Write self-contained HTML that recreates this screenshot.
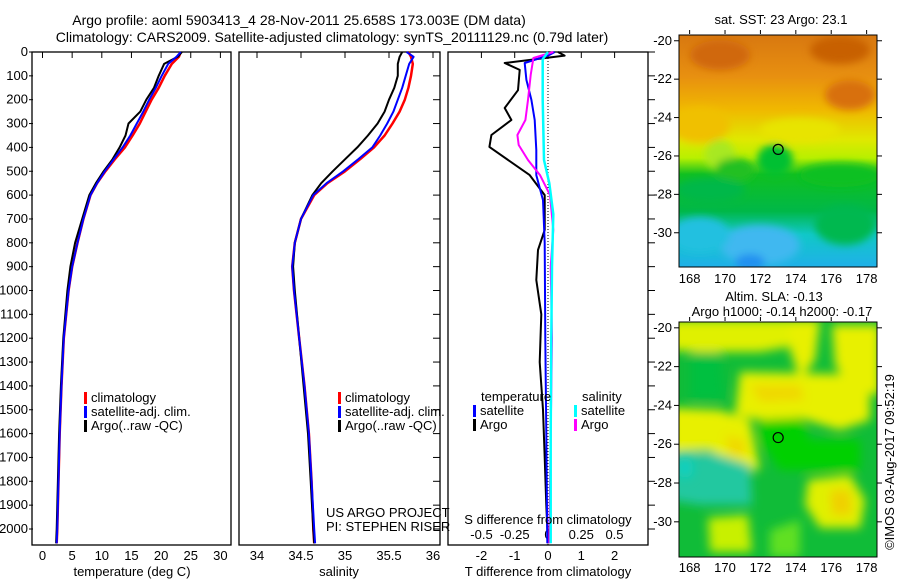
<!DOCTYPE html>
<html><head><meta charset="utf-8"><style>
body{margin:0;background:#fff;}
svg{display:block;font-family:"Liberation Sans",sans-serif;}
text{font-size:13px;fill:#000;}
</style></head><body>
<svg id="c" width="900" height="580" viewBox="0 0 900 580" xmlns="http://www.w3.org/2000/svg">
<defs>
<filter id="bl2" filterUnits="userSpaceOnUse" x="640" y="20" width="260" height="560"><feGaussianBlur stdDeviation="4"/></filter>
<filter id="bl3" filterUnits="userSpaceOnUse" x="640" y="300" width="260" height="280"><feGaussianBlur stdDeviation="5"/></filter>
<clipPath id="m1"><rect x="679" y="35" width="198" height="232"/></clipPath>
<clipPath id="m2"><rect x="679" y="322" width="198" height="235"/></clipPath>
<linearGradient id="sst" x1="0" y1="0" x2="0" y2="1">
<stop offset="0" stop-color="#d87810"/><stop offset="0.18" stop-color="#e89010"/><stop offset="0.32" stop-color="#f0b800"/><stop offset="0.45" stop-color="#e0e800"/><stop offset="0.53" stop-color="#b8f000"/><stop offset="0.6" stop-color="#10c020"/><stop offset="0.76" stop-color="#00b848"/><stop offset="0.86" stop-color="#10c8c8"/><stop offset="1" stop-color="#20b0e8"/>
</linearGradient>
</defs>
<text x="299" y="25" text-anchor="middle" style="font-size:14px">Argo profile: aoml 5903413_4 28-Nov-2011 25.658S 173.003E (DM data)</text>
<text x="332" y="42" text-anchor="middle" style="font-size:14px">Climatology: CARS2009. Satellite-adjusted climatology: synTS_20111129.nc (0.79d later)</text>
<g id="plots"></g>
<g id="maps"></g>
<text x="781" y="24" text-anchor="middle">sat. SST: 23 Argo: 23.1</text>
<text x="774" y="301" text-anchor="middle">Altim. SLA: -0.13</text>
<text x="782" y="316" text-anchor="middle">Argo h1000: -0.14 h2000: -0.17</text>
<text transform="translate(894,462) rotate(-90)" text-anchor="middle">©IMOS 03-Aug-2017 09:52:19</text>
<text x="326" y="517">US ARGO PROJECT</text>
<text x="326" y="531">PI: STEPHEN RISER</text>
</svg>
<script>
// ---- data ----
const depthTicks=[0,100,200,300,400,500,600,700,800,900,1000,1100,1200,1300,1400,1500,1600,1700,1800,1900,2000];
const tDepth=[0,20,50,100,150,200,250,300,350,400,450,500,550,600,700,800,900,1000,1200,1400,1600,1800,2000,2060];
const tClim=[23.3,23.0,21.8,20.6,19.6,18.4,17.4,16.4,15.2,13.9,12.2,10.6,9.2,8.1,6.9,5.9,5.0,4.4,3.6,3.2,2.9,2.7,2.5,2.4];
const tSat=[23.3,22.6,21.2,20.1,19.1,18.0,17.0,15.9,14.8,13.5,12.0,10.5,9.2,8.1,6.9,5.9,5.0,4.4,3.6,3.2,2.9,2.7,2.5,2.4];
const tArgo=[23.5,22.8,20.5,19.6,18.8,17.5,16.5,14.5,14.0,13.0,11.8,10.3,9.0,7.9,6.7,5.5,4.7,4.2,3.5,3.1,2.8,2.6,2.4,2.3];
const sDepth=[0,20,50,100,150,200,250,300,350,400,450,500,550,600,700,800,900,1000,1200,1400,1600,1800,2000,2060];
const sClim=[35.72,35.75,35.77,35.75,35.72,35.68,35.62,35.54,35.45,35.33,35.17,35.0,34.8,34.65,34.5,34.43,34.40,34.42,34.48,34.54,34.59,34.62,34.64,34.65];
const sSat=[35.70,35.78,35.73,35.69,35.65,35.60,35.55,35.48,35.40,35.31,35.15,34.98,34.79,34.64,34.5,34.43,34.40,34.42,34.48,34.54,34.59,34.62,34.65,34.66];
const sArgo=[35.65,35.62,35.60,35.60,35.56,35.50,35.45,35.37,35.26,35.14,35.0,34.86,34.73,34.63,34.5,34.43,34.41,34.43,34.48,34.53,34.58,34.61,34.64,34.65];
const dtArgoDepth=[0,15,46,75,160,235,285,348,398,516,600,746,830,956,1100,1300,1500,1700,1900,2060];
const dtArgo=[0.3,0.5,-1.3,-0.85,-0.9,-1.3,-1.1,-1.7,-1.76,-0.55,-0.1,-0.1,-0.3,-0.35,-0.2,-0.25,-0.15,-0.1,-0.05,0];
const dtSatDepth=[0,15,46,117,201,285,411,516,621,800,1200,1600,2060];
const dtSat=[0.2,0.0,-0.7,-0.65,-0.5,-0.4,-0.35,-0.35,-0.15,-0.1,-0.08,-0.05,-0.02];
const dsArgoDepth=[0,25,96,201,285,348,390,453,516,600,746,900,1200,1600,2060];
const dsArgo=[0.04,-0.11,-0.13,-0.15,-0.17,-0.23,-0.22,-0.15,-0.06,0.015,0.04,0.02,0.03,0.02,0.01];
const dsSatDepth=[0,30,200,453,550,680,900,1200,1600,2060];
const dsSat=[0.0,-0.04,-0.04,-0.03,0.01,0.04,0.03,0.025,0.02,0.02];
const tTicks=[0,5,10,15,20,25,30];
const sTicks=[34,34.5,35,35.5,36];
const dtTicks=[-2,-1,0,1,2];
const dsTicks=[-0.5,-0.25,0,0.25,0.5];
const dsTickLabels=["-0.5","-0.25","0","0.25","0.5"];
const latTicks=[-20,-22,-24,-26,-28,-30];
const lonTicks=[168,170,172,174,176,178];
const argoLon=173.003, argoLat=-25.658;

// ---- scales ----
const NS='http://www.w3.org/2000/svg';
const Y=d=>52+d*0.2385;
const xT=v=>42.5+v*5.93;
const xS=v=>257+(v-34)*88;
const xDT=v=>548+v*33.3;
const xDS=v=>548+v*133;
const TOP=52,BOT=545;
function mk(tag,attrs,parent){const e=document.createElementNS(NS,tag);for(const k in attrs)e.setAttribute(k,attrs[k]);parent.appendChild(e);return e;}
const plots=document.getElementById('plots');

function panel(x0,x1,name){
  const g=mk('g',{},plots);
  
  
  const r=mk('rect',{x:x0,y:TOP,width:x1-x0,height:BOT-TOP,fill:'none',stroke:'#000','stroke-width':1.3},g);
  
  
  return g;
}
function line(g,xs,ds,fx,color,w,name){
  const p=xs.map((v,i)=>fx(v).toFixed(1)+','+Y(ds[i]).toFixed(1)).join(' ');
  const e=mk('polyline',{points:p,fill:'none',stroke:color,'stroke-width':w,'stroke-linejoin':'round'},g);
  
  
}
function xticks(g,ticks,fx,y,labels){
  ticks.forEach((t,i)=>{
    mk('line',{x1:fx(t),x2:fx(t),y1:TOP,y2:TOP+6,stroke:'#000'},g);
    const tx=mk('text',{x:fx(t),y:y,'text-anchor':'middle'},g);tx.textContent=labels?labels[i]:String(t);
    
    
  });
}
function legend(g,x,y,items){
  items.forEach((it,i)=>{
    mk('rect',{x:x,y:y+i*14-10,width:3,height:12,fill:it[0]},g);
    const t=mk('text',{x:x+7,y:y+i*14},g);t.textContent=it[1];
    
    
  });
}
// depth labels + ticks
depthTicks.forEach(d=>{const t=mk('text',{x:28,y:Y(d)+4,'text-anchor':'end'},plots);t.textContent=d;
  
  
  mk('line',{x1:29,x2:33,y1:Y(d),y2:Y(d),stroke:'#000'},plots);
  mk('line',{x1:433,x2:440,y1:Y(d),y2:Y(d),stroke:'#000'},plots);
  mk('line',{x1:648,x2:655,y1:Y(d),y2:Y(d),stroke:'#000'},plots);
});

// panel 1
let g=panel(32,231,'temperature-panel');
xticks(g,tTicks,xT,560);
line(g,tClim,tDepth,xT,'#f00',2.5,'temp-climatology-line');
line(g,tArgo,tDepth,xT,'#000',2,'temp-argo-line');
line(g,tSat,tDepth,xT,'#00f',2,'temp-satellite-line');
let t=mk('text',{x:132,y:576,'text-anchor':'middle'},g);t.textContent='temperature (deg C)';


legend(g,84,402,[['#f00','climatology'],['#00f','satellite-adj. clim.'],['#000','Argo(..raw -QC)']]);

// panel 2
g=panel(239,440,'salinity-panel');
xticks(g,sTicks,xS,560);
line(g,sClim,sDepth,xS,'#f00',2.5,'sal-climatology-line');
line(g,sArgo,sDepth,xS,'#000',2,'sal-argo-line');
line(g,sSat,sDepth,xS,'#00f',2,'sal-satellite-line');
t=mk('text',{x:339,y:576,'text-anchor':'middle'},g);t.textContent='salinity';


legend(g,338,402,[['#f00','climatology'],['#00f','satellite-adj. clim.'],['#000','Argo(..raw -QC)']]);

// panel 3
g=panel(448,648,'difference-panel');
xticks(g,dtTicks,xDT,560);
dsTicks.forEach((v,i)=>{const tx=mk('text',{x:xDS(v),y:539,'text-anchor':'middle'},g);tx.textContent=dsTickLabels[i];
  
  });
mk('line',{x1:548,x2:548,y1:TOP,y2:BOT,stroke:'#000','stroke-dasharray':'1,2'},g);
line(g,dtArgo,dtArgoDepth,xDT,'#000',2,'tdiff-argo-line');
line(g,dtSat,dtSatDepth,xDT,'#00f',2,'tdiff-satellite-line');
line(g,dsArgo,dsArgoDepth,xDS,'#f0f',2,'sdiff-argo-line');
line(g,dsSat,dsSatDepth,xDS,'#0ff',2.5,'sdiff-satellite-line');
t=mk('text',{x:548,y:524,'text-anchor':'middle'},g);t.textContent='S difference from climatology';


t=mk('text',{x:548,y:576,'text-anchor':'middle'},g);t.textContent='T difference from climatology';


t=mk('text',{x:481,y:401},g);t.textContent='temperature';


t=mk('text',{x:582,y:401},g);t.textContent='salinity';


legend(g,473,415,[['#00f','satellite'],['#000','Argo']]);
legend(g,574,415,[['#0ff','satellite'],['#f0f','Argo']]);

// ---- maps ----
const maps=document.getElementById('maps');
function mapAxes(g,y0,latPx){
  const lonX=v=>679+(v-167.4)*17.7;
  const latY=v=>y0+(-19.7-v)*latPx;
  latTicks.forEach(v=>{mk('line',{x1:679,x2:674,y1:latY(v),y2:latY(v),stroke:'#000'},g);mk('line',{x1:877,x2:882,y1:latY(v),y2:latY(v),stroke:'#000'},g);
    const tx=mk('text',{x:672,y:latY(v)+4,'text-anchor':'end'},g);tx.textContent=v;
    
    });
  lonTicks.forEach(v=>{mk('line',{x1:lonX(v),x2:lonX(v),y1:y0-1,y2:y0-5,stroke:'#000'},g);
    const tx=mk('text',{x:lonX(v),y:0,'text-anchor':'middle'},g);tx.textContent=v;tx._lx=true;
    
    });
  return {lonX,latY};
}
// SST map
let mg=mk('g',{},maps);


let cg=mk('g',{'clip-path':'url(#m1)'},mg);
mk('rect',{x:679,y:35,width:198,height:232,fill:'url(#sst)'},cg);
const fb=mk('g',{filter:'url(#bl2)'},cg);
[['#d06808',720,55,30,15],['#c86000',840,50,30,14],['#d87008',850,95,25,15],['#f0c000',700,125,30,18],['#e8e400',800,130,40,12],['#a8e820',720,155,15,15],['#20c020',735,170,20,12],['#00c030',775,160,18,16],['#10c020',840,175,40,12],['#00b848',710,190,35,12],['#40b8f0',760,245,40,20],['#20c0e0',700,235,30,18],['#00b850',845,225,30,20],['#2090f0',750,262,15,8]].forEach(c=>mk('ellipse',{cx:c[1],cy:c[2],rx:c[3],ry:c[4],fill:c[0]},fb));
let ax=mapAxes(mg,35,19.2);
mg.querySelectorAll('text').forEach(tx=>{if(tx._lx)tx.setAttribute('y',283);});
mk('rect',{x:679,y:35,width:198,height:232,fill:'none',stroke:'#000'},mg);
let c1=mk('circle',{cx:ax.lonX(argoLon),cy:ax.latY(argoLat),r:5,fill:'none',stroke:'#000','stroke-width':1.2},mg);



// SLA map
mg=mk('g',{},maps);


cg=mk('g',{'clip-path':'url(#m2)'},mg);
mk('rect',{x:679,y:322,width:198,height:235,fill:'#10bc38'},cg);
const fb2=mk('g',{filter:'url(#bl3)'},cg);
[
 ['#e0f000','670,320 790,320 800,345 760,352 700,352 670,350'],
 ['#e8f000','790,320 820,320 815,360 800,380 790,350'],
 ['#e8f000','740,372 870,375 870,420 840,430 800,418 760,420 735,415'],
 ['#f0d800','750,385 800,385 805,400 760,402'],
 ['#e8f000','832,325 880,325 880,395 850,390 835,365'],
 ['#e8f000','670,408 720,410 750,420 760,470 735,470 710,450 670,452'],
 ['#f0d800','725,435 745,440 745,455 730,455'],
 ['#00c040','690,352 720,352 725,400 690,400'],
 ['#00d000','760,420 800,418 810,440 760,440'],
 ['#20c8a0','670,452 710,452 750,465 752,505 700,505 670,500'],
 ['#e0f000','808,480 850,475 865,500 860,528 820,528 805,505'],
 ['#f0d000','830,490 850,490 852,515 832,515'],
 ['#c8f000','708,518 748,515 752,552 710,552'],
 ['#60e020','770,530 800,520 800,557 770,557'],
 ['#00d000','760,440 860,440 860,470 780,470']
].forEach(c=>mk('polygon',{points:c[1],fill:c[0]},fb2));
mk('ellipse',{cx:685,cy:468,rx:8,ry:10,fill:'#10d0c0',filter:'url(#bl3)'},cg);
ax=mapAxes(mg,322,19.4);
mg.querySelectorAll('text').forEach(tx=>{if(tx._lx)tx.setAttribute('y',572);});
mk('rect',{x:679,y:322,width:198,height:235,fill:'none',stroke:'#000'},mg);
let c2=mk('circle',{cx:ax.lonX(argoLon),cy:ax.latY(argoLat),r:5,fill:'none',stroke:'#000','stroke-width':1.2},mg);


</script>
</body></html>
